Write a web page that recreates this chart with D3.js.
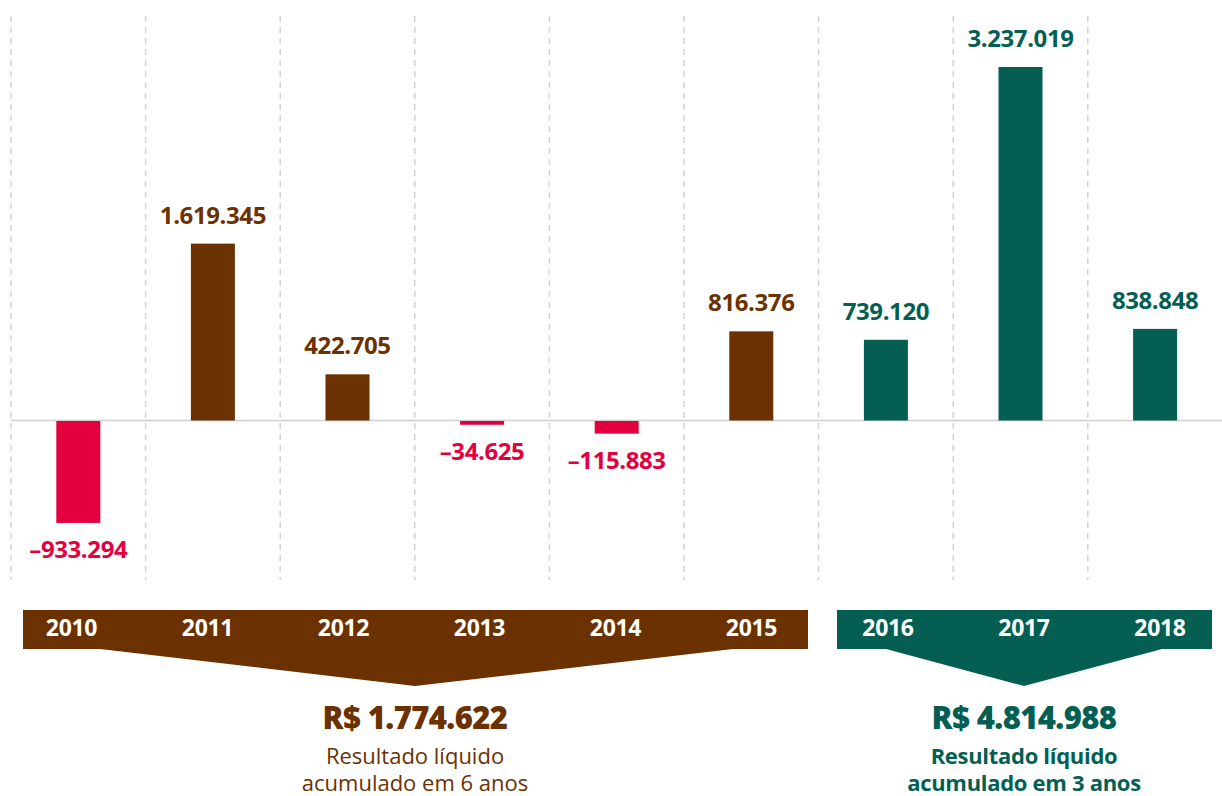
<!DOCTYPE html>
<html><head><meta charset="utf-8">
<script src="https://cdn.jsdelivr.net/npm/d3@7"></script>
<style>
html,body{margin:0;padding:0;background:#fff;}
svg{display:block;font-family:"Open Sans","Noto Sans",sans-serif;}
</style></head>
<body>
<svg id="chart" width="1222" height="796"></svg>
<script>
const years = ["2010","2011","2012","2013","2014","2015","2016","2017","2018"];
const values = [-933294, 1619345, 422705, -34625, -115883, 816376, 739120, 3237019, 838848];
const groupA = ["2010","2011","2012","2013","2014","2015"];
const groupB = ["2016","2017","2018"];
const totals = ["R$ 1.774.622", "R$ 4.814.988"];
const subtitles = [["Resultado líquido","acumulado em 6 anos"],["Resultado líquido","acumulado em 3 anos"]];

const BROWN = "#6B3100", RED = "#E4003F", GREEN = "#045F52";
const svg = d3.select("#chart");
const fmt = d3.formatLocale({decimal:",", thousands:".", grouping:[3], currency:["R$ ",""], minus:"–"}).format(",d");

const x = d3.scaleBand().domain(years).range([11, 1222.4]).padding(0);
const y = d3.scaleLinear().domain([0, 3237019]).range([420.5, 67]);
const colorOf = (yr, v) => v < 0 ? RED : (groupB.includes(yr) ? GREEN : BROWN);

// gridlines
svg.append("g").selectAll("line").data(years).join("line")
  .attr("x1", d => x(d)).attr("x2", d => x(d))
  .attr("y1", 16).attr("y2", 580)
  .attr("stroke", "#d3d3d3").attr("stroke-width", 1.5)
  .attr("stroke-dasharray", "6,5");

// zero line
svg.append("line").attr("x1", 11).attr("x2", 1222).attr("y1", y(0)).attr("y2", y(0))
  .attr("stroke", "#cfcfcf").attr("stroke-width", 1.5);

const data = years.map((yr, i) => ({yr, v: values[i]}));
const bw = 44;
svg.append("g").selectAll("rect").data(data).join("rect")
  .attr("x", d => x(d.yr) + x.bandwidth()/2 - bw/2)
  .attr("width", bw)
  .attr("y", d => d.v >= 0 ? y(d.v) : y(0) + 0.5)
  .attr("height", d => Math.abs(y(d.v) - y(0)))
  .attr("fill", d => colorOf(d.yr, d.v));

svg.append("g").selectAll("text").data(data).join("text")
  .attr("x", d => x(d.yr) + x.bandwidth()/2)
  .attr("y", d => d.v >= 0 ? y(d.v) - 20 : y(d.v) + 36)
  .attr("text-anchor", "middle")
  .attr("font-size", 24).attr("font-weight", 700).attr("letter-spacing", -0.4)
  .attr("fill", d => colorOf(d.yr, d.v))
  .text(d => fmt(d.v));

// banners
function banner(group, x0, x1, c0, c1, tip, tipX, col, total, sub, bold) {
  const g = svg.append("g");
  const top = 610, bot = 649, tipY = 686;
  g.append("path").attr("fill", col)
    .attr("d", `M${x0},${top}H${x1}V${bot}H${tip[1]}L${tipX},${tipY}L${tip[0]},${bot}H${x0}Z`);
  const p = d3.scalePoint().domain(group).range([c0, c1]);
  g.selectAll("text.yr").data(group).join("text").attr("class","yr")
    .attr("x", d => p(d)).attr("y", 636)
    .attr("text-anchor", "middle").attr("fill", "#fff")
    .attr("font-size", 23).attr("font-weight", 700).attr("letter-spacing", -0.3)
    .text(d => d);
  g.append("text").attr("x", tipX).attr("y", 729).attr("text-anchor","middle")
    .attr("fill", col).attr("font-size", 31).attr("font-weight", 800).attr("letter-spacing", -0.6)
    .text(total);
  g.selectAll("text.sub").data(sub).join("text").attr("class","sub")
    .attr("x", tipX).attr("y", (d,i) => 764 + i*27).attr("text-anchor","middle")
    .attr("fill", col).attr("font-size", 22).attr("font-weight", bold ? 700 : 400)
    .attr("letter-spacing", bold ? -0.3 : 0)
    .text(d => d);
}
banner(groupA, 23, 808, 71.5, 751.5, [100, 733], 415, BROWN, totals[0], subtitles[0], false);
banner(groupB, 837, 1212, 888, 1160, [886, 1162], 1024, GREEN, totals[1], subtitles[1], true);
</script>
</body></html>
